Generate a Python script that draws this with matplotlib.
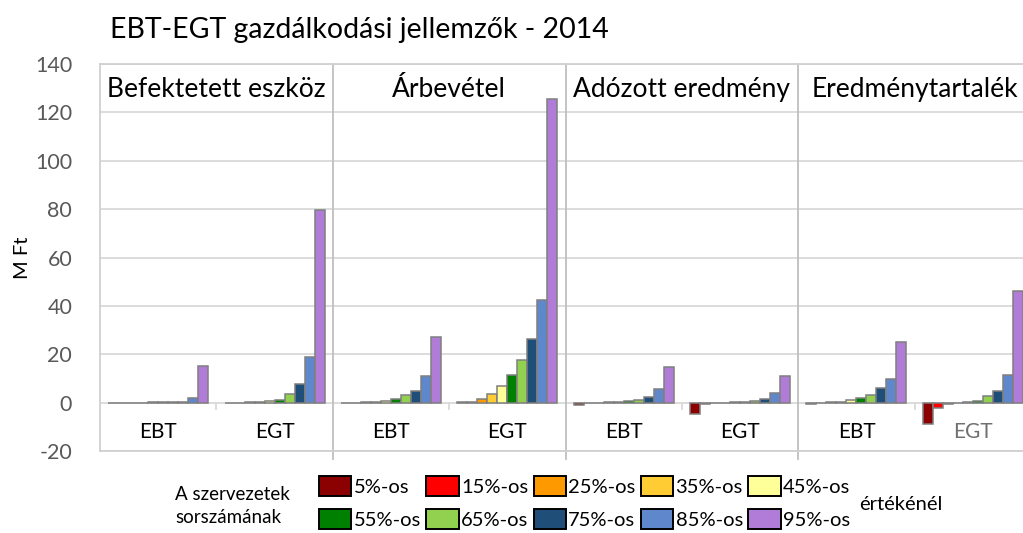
import matplotlib
matplotlib.use("Agg")
import matplotlib.pyplot as plt
import matplotlib.patches as mpatches
import numpy as np

plt.rcParams['font.family'] = ['Lato', 'DejaVu Sans']
plt.rcParams['axes.unicode_minus'] = False

# percentile series
percentiles = ['5%-os', '15%-os', '25%-os', '35%-os', '45%-os',
               '55%-os', '65%-os', '75%-os', '85%-os', '95%-os']
colors = ['#8B0000', '#FF0000', '#FF9900', '#FFCC33', '#FFFF99',
          '#008000', '#92D050', '#1F4E79', '#5F88CC', '#B07CD8']

panels = ['Befektetett eszköz', 'Árbevétel', 'Adózott eredmény', 'Eredménytartalék']
groups = ['EBT', 'EGT']

# M Ft, one value per percentile (5% ... 95%)
befektetett_ebt = [0, 0, 0, 0.05, 0.1, 0.2, 0.3, 0.4, 2.1, 15.3]
befektetett_egt = [0, 0, 0.1, 0.3, 0.5, 1.1, 3.5, 7.6, 18.9, 79.8]
arbevetel_ebt = [0, 0, 0.1, 0.2, 0.5, 1.5, 3.0, 4.8, 11.0, 27.2]
arbevetel_egt = [0.1, 0.3, 1.4, 3.7, 6.9, 11.3, 17.5, 26.5, 42.4, 125.5]
adozott_ebt = [-0.8, -0.1, 0.05, 0.1, 0.2, 0.5, 1.2, 2.3, 5.8, 14.7]
adozott_egt = [-4.5, -0.6, 0, 0, 0.1, 0.3, 0.6, 1.6, 3.9, 11.0]
eredmeny_ebt = [-0.5, 0, 0.1, 0.4, 1.0, 1.8, 3.3, 6.1, 9.9, 24.9]
eredmeny_egt = [-8.8, -2.1, -0.4, 0, 0.1, 0.8, 2.6, 5.0, 11.6, 46.2]

all_groups = [befektetett_ebt, befektetett_egt, arbevetel_ebt, arbevetel_egt,
              adozott_ebt, adozott_egt, eredmeny_ebt, eredmeny_egt]

W, H = 1023, 533
fig = plt.figure(figsize=(W / 100, H / 100), dpi=100)
# plot area runs past the right edge, last panel gets cut like the original
ax = fig.add_axes([100 / W, (H - 451) / H, 931 / W, 387 / H])

n_groups = len(all_groups)
vals = np.array(all_groups)  # groups x percentiles
bw = 0.086
xc = np.arange(n_groups) + 0.5
bars = []
for j in range(len(percentiles)):
    b = ax.bar(xc + (j - 4.5) * bw, vals[:, j], width=bw, color=colors[j],
               edgecolor='#7F7F7F', linewidth=1.1, zorder=3)
    bars.append(b)

ax.set_xlim(0, n_groups)
ax.set_ylim(-20, 140)
ax.set_yticks(np.arange(-20, 141, 20))
ax.tick_params(axis='y', length=0, labelsize=15.5, labelcolor='#595959', pad=20)
ax.set_xticks([])
ax.yaxis.grid(True, color='#D9D9D9', linewidth=1.3, zorder=0)
ax.set_axisbelow(True)
for s in ['left', 'top', 'bottom', 'right']:
    ax.spines[s].set_color('#D0D0D0')
    ax.spines[s].set_linewidth(1.3)

# panel separators and group ticks
for k in range(1, len(panels)):
    ax.axvline(2 * k, ymin=-0.02, ymax=1, color='#BFBFBF', linewidth=1.3,
               clip_on=False, zorder=2)
for k in range(len(panels)):
    ax.plot([2 * k + 1, 2 * k + 1], [0, -2.6], color='#D9D9D9', linewidth=1.3, zorder=2)
    ax.text(2 * k + 1, 129.5, panels[k], ha='center', va='center', fontsize=19)
    for g in range(2):
        c = '#707070' if (k == 3 and g == 1) else 'black'
        ax.text(2 * k + g + 0.5, -12.3, groups[g], ha='center', va='center',
                fontsize=15, color=c)

ax.set_ylabel('M Ft', fontsize=14.5)
ax.yaxis.set_label_coords(-69 / 931, 0.5)

fig.text(110 / W, 1 - 30 / H, 'EBT-EGT gazdálkodási jellemzők - 2014',
         fontsize=20.5, va='center', ha='left')

# legend, row by row like the original
handles = [mpatches.Patch(facecolor=c, edgecolor='black', linewidth=1.4) for c in colors]
order = [0, 5, 1, 6, 2, 7, 3, 8, 4, 9]
fig.legend([handles[i] for i in order], [percentiles[i] for i in order],
           ncol=5, loc='upper left', bbox_to_anchor=(319 / W, 1 - 476 / H),
           frameon=False, fontsize=14.5, handlelength=1.6, handleheight=1.15,
           handletextpad=0.12, columnspacing=0.27, labelspacing=0.65, borderpad=0,
           borderaxespad=0)
fig.text(175 / W, 1 - 506 / H, 'A szervezetek\nsorszámának', fontsize=13.5,
         va='center', ha='left', linespacing=1.4)
fig.text(859 / W, 1 - 505 / H, 'értékénél', fontsize=14.5, va='center', ha='left')

fig.savefig('out.png', dpi=100)
